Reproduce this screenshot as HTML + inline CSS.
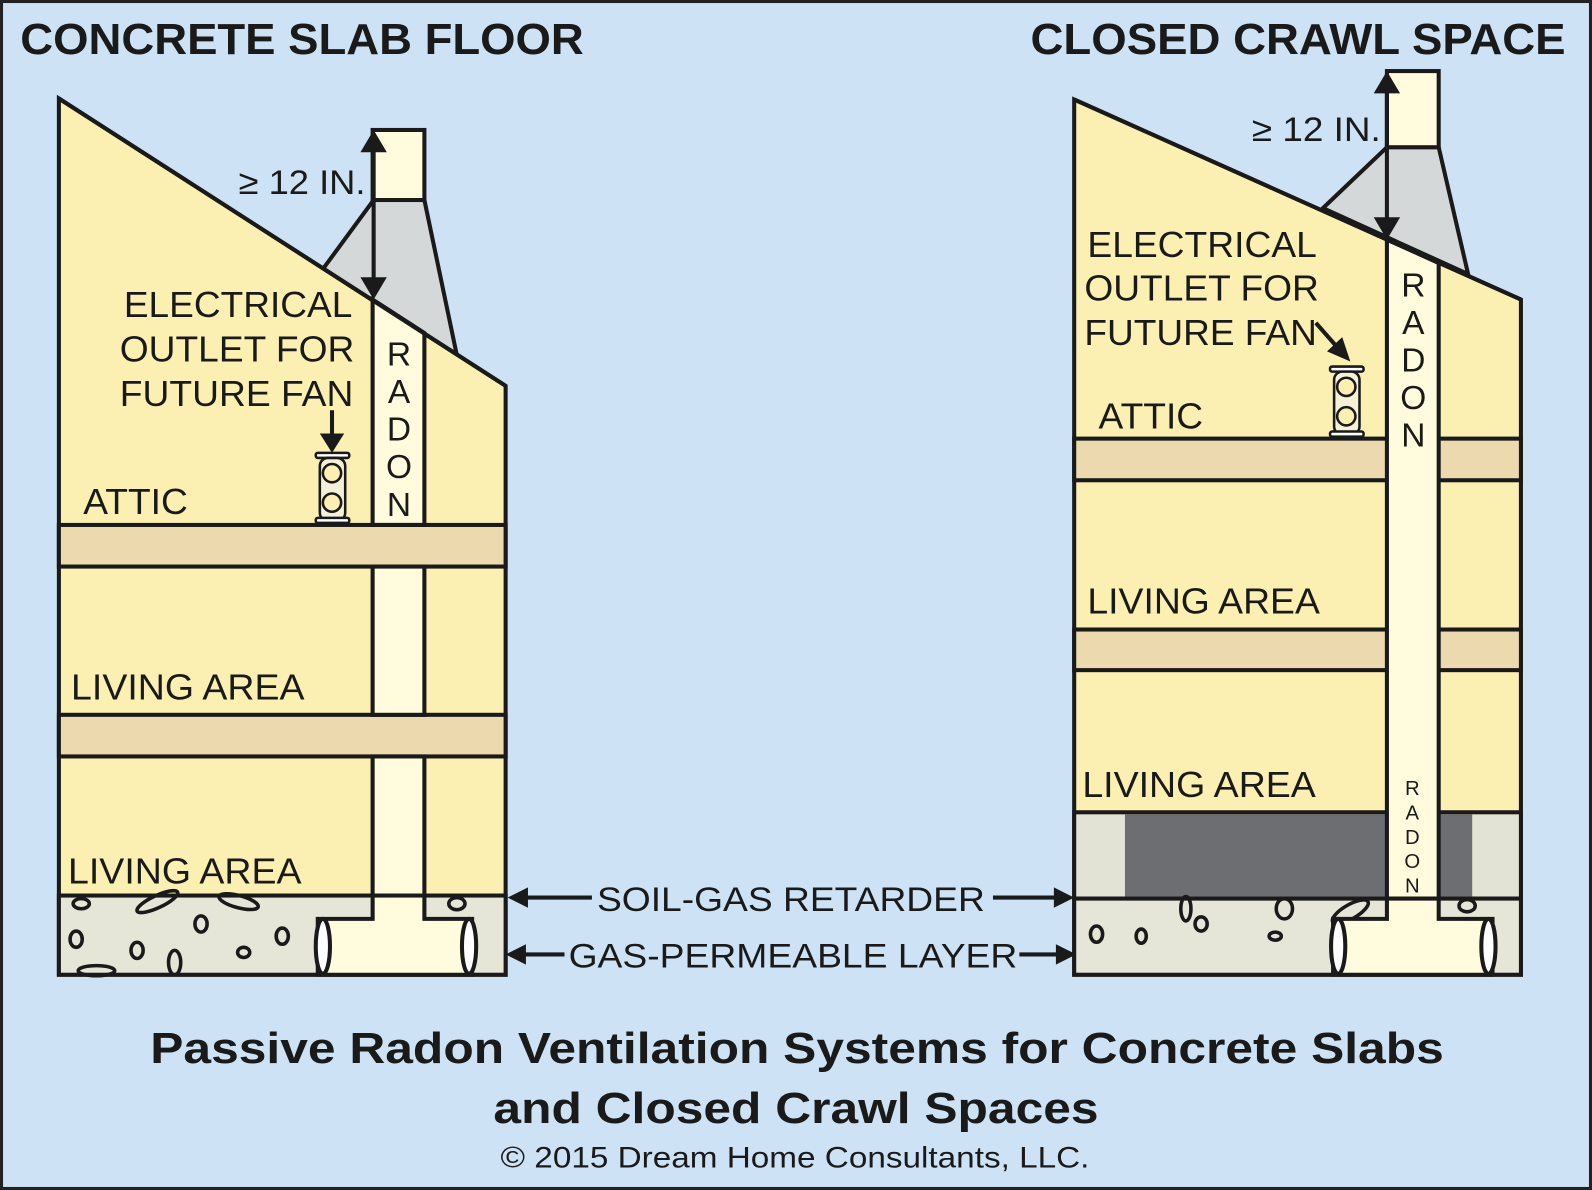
<!DOCTYPE html>
<html><head><meta charset="utf-8"><style>
html,body{margin:0;padding:0;background:#cde3f5;}
svg{display:block;}
text{font-family:"Liberation Sans",Arial,sans-serif;fill:#1a1a1a;}
</style></head><body>
<svg width="1592" height="1190" viewBox="0 0 1568 1172" preserveAspectRatio="none" xmlns="http://www.w3.org/2000/svg">
<rect x="1.5" y="1.5" width="1565" height="1169" fill="#cde3f5" stroke="#222" stroke-width="3"/>
<g stroke="#1a1a1a" stroke-width="4" stroke-linejoin="miter">
<!-- LEFT HOUSE -->
<polygon points="318,265 368,197 418,197 450,350" fill="#d4d8d8"/>
<polygon points="58,97 498,380 498,960 58,960" fill="#fcefb2"/>
<rect x="58" y="517" width="440" height="41" fill="#ecd9ae"/>
<rect x="58" y="704" width="440" height="41" fill="#ecd9ae"/>
<rect x="58" y="882" width="440" height="78" fill="#e6e6d8"/>
<g fill="none" stroke-width="3.5">
<ellipse cx="80" cy="890" rx="8" ry="5"/><ellipse cx="155" cy="888" rx="22" ry="6" transform="rotate(-25 155 888)"/>
<ellipse cx="235" cy="888" rx="20" ry="6" transform="rotate(15 235 888)"/>
<ellipse cx="75" cy="925" rx="6" ry="8"/><ellipse cx="135" cy="936" rx="6" ry="8"/><ellipse cx="198" cy="910" rx="6" ry="8"/>
<ellipse cx="240" cy="938" rx="6" ry="5"/><ellipse cx="278" cy="922" rx="6" ry="8"/><ellipse cx="172" cy="948" rx="6" ry="12"/>
<ellipse cx="450" cy="890" rx="8" ry="6"/><ellipse cx="95" cy="956" rx="18" ry="5"/>
</g>
<path d="M367,882 V905 H313 V960 H465 V905 H418 V882" fill="#fffbdc"/>
<ellipse cx="318" cy="932" rx="7" ry="27" fill="#fff"/>
<ellipse cx="462" cy="932" rx="7" ry="27" fill="#fff"/>
<rect x="367" y="558" width="51" height="146" fill="#fffbdc"/>
<rect x="367" y="745" width="51" height="137" fill="#fffbdc"/>
<polygon points="367,295 418,328 418,517 367,517" fill="#fffbdc"/>
<rect x="367" y="128" width="51" height="69" fill="#fffbdc"/>
<line x1="58" y1="97" x2="498" y2="380"/>
<!-- RIGHT HOUSE -->
<polygon points="1303,205 1366,145 1417,145 1446,270" fill="#d4d8d8"/>
<polygon points="1058,98 1498,295 1498,960 1058,960" fill="#fcefb2"/>
<rect x="1058" y="432" width="440" height="41" fill="#ecd9ae"/>
<rect x="1058" y="620" width="440" height="40" fill="#ecd9ae"/>
<rect x="1058" y="800" width="440" height="85" fill="#e3e3d5"/>
<rect x="1108" y="802" width="342" height="82" fill="#6d6e72" stroke="none"/>
<rect x="1058" y="885" width="440" height="75" fill="#e6e6d8"/>
<g fill="none" stroke-width="3.5">
<ellipse cx="1080" cy="920" rx="6" ry="8"/><ellipse cx="1124" cy="922" rx="5" ry="7"/><ellipse cx="1183" cy="910" rx="6" ry="7"/>
<ellipse cx="1256" cy="922" rx="6" ry="4"/><ellipse cx="1168" cy="895" rx="5" ry="12"/><ellipse cx="1265" cy="895" rx="8" ry="10"/>
<ellipse cx="1330" cy="898" rx="20" ry="7" transform="rotate(-30 1330 898)"/><ellipse cx="1445" cy="892" rx="8" ry="6"/>
</g>
<path d="M1366,885 V905 H1313 V960 H1470 V905 H1417 V885" fill="#fffbdc"/>
<ellipse cx="1318" cy="932" rx="7" ry="27" fill="#fff"/>
<ellipse cx="1466" cy="932" rx="7" ry="27" fill="#fff"/>
<polygon points="1366,236 1417,259 1417,885 1366,885" fill="#fffbdc"/>
<rect x="1366" y="70" width="51" height="75" fill="#fffbdc"/>
<line x1="1058" y1="98" x2="1498" y2="295"/>
</g>
<g stroke="#1a1a1a" stroke-width="4" fill="#1a1a1a">
<line x1="368" y1="140" x2="368" y2="282"/>
<path d="M368,128 L355,150 H381Z" stroke="none"/><path d="M368,295 L355,273 H381Z" stroke="none"/>
<line x1="1366" y1="82" x2="1366" y2="222"/>
<path d="M1366,70 L1353,92 H1379Z" stroke="none"/><path d="M1366,236 L1353,214 H1379Z" stroke="none"/>
<line x1="327" y1="404" x2="327" y2="432"/><path d="M327,446 L315,427 H339Z" stroke="none"/>
<line x1="1296" y1="318" x2="1318" y2="343"/><path d="M1330,356 L1307,346 L1322,332Z" stroke="none"/>
</g>
<g stroke="#1a1a1a" stroke-width="2.5" fill="#fff">
<rect x="311" y="446" width="33" height="5" rx="2"/><rect x="315" y="451" width="25" height="62" rx="8" fill="#f5f0d8"/>
<rect x="311" y="510" width="33" height="5" rx="2"/>
<circle cx="327" cy="466" r="9" fill="#fcefb2"/><circle cx="327" cy="495" r="9" fill="#fcefb2"/>
<rect x="1310" y="361" width="33" height="5" rx="2"/><rect x="1314" y="366" width="25" height="62" rx="8" fill="#f5f0d8"/>
<rect x="1310" y="425" width="33" height="5" rx="2"/>
<circle cx="1326" cy="381" r="9" fill="#fcefb2"/><circle cx="1326" cy="410" r="9" fill="#fcefb2"/>
</g>
<g stroke="#1a1a1a" stroke-width="4" fill="#1a1a1a">
<line x1="515" y1="884" x2="583" y2="884"/><path d="M500,884 L520,874 V894Z" stroke="none"/>
<line x1="978" y1="884" x2="1042" y2="884"/><path d="M1058,884 L1038,874 V894Z" stroke="none"/>
<line x1="515" y1="940" x2="556" y2="940"/><path d="M498,940 L518,930 V950Z" stroke="none"/>
<line x1="1004" y1="940" x2="1044" y2="940"/><path d="M1060,940 L1040,930 V950Z" stroke="none"/>
</g>
<g lengthAdjust="spacingAndGlyphs">
<text x="20" y="53" font-size="43" font-weight="bold" textLength="555" lengthAdjust="spacingAndGlyphs">CONCRETE SLAB FLOOR</text>
<text x="1015" y="53" font-size="43" font-weight="bold" textLength="527" lengthAdjust="spacingAndGlyphs">CLOSED CRAWL SPACE</text>
<text x="235" y="191" font-size="34" textLength="125" lengthAdjust="spacingAndGlyphs">≥ 12 IN.</text>
<text x="1233" y="139" font-size="34" textLength="127" lengthAdjust="spacingAndGlyphs">≥ 12 IN.</text>
<g font-size="36">
<text x="122" y="312" textLength="225" lengthAdjust="spacingAndGlyphs">ELECTRICAL</text>
<text x="118" y="356" textLength="231" lengthAdjust="spacingAndGlyphs">OUTLET FOR</text>
<text x="118" y="400" textLength="230" lengthAdjust="spacingAndGlyphs">FUTURE FAN</text>
<text x="1071" y="253" textLength="226" lengthAdjust="spacingAndGlyphs">ELECTRICAL</text>
<text x="1068" y="296" textLength="231" lengthAdjust="spacingAndGlyphs">OUTLET FOR</text>
<text x="1068" y="340" textLength="229" lengthAdjust="spacingAndGlyphs">FUTURE FAN</text>
<text x="82" y="506" textLength="103" lengthAdjust="spacingAndGlyphs">ATTIC</text>
<text x="1082" y="422" textLength="103" lengthAdjust="spacingAndGlyphs">ATTIC</text>
<text x="70" y="689" textLength="230" lengthAdjust="spacingAndGlyphs">LIVING AREA</text>
<text x="67" y="870" textLength="230" lengthAdjust="spacingAndGlyphs">LIVING AREA</text>
<text x="1071" y="604" textLength="229" lengthAdjust="spacingAndGlyphs">LIVING AREA</text>
<text x="1066" y="785" textLength="230" lengthAdjust="spacingAndGlyphs">LIVING AREA</text>
</g>
<g font-size="33" text-anchor="middle">
<text x="393" y="360">R</text><text x="393" y="397">A</text><text x="393" y="434">D</text><text x="393" y="471">O</text><text x="393" y="508">N</text>
<text x="1392" y="292">R</text><text x="1392" y="329">A</text><text x="1392" y="366">D</text><text x="1392" y="403">O</text><text x="1392" y="440">N</text>
</g>
<g font-size="20" text-anchor="middle">
<text x="1391" y="783">R</text><text x="1391" y="807">A</text><text x="1391" y="831">D</text><text x="1391" y="855">O</text><text x="1391" y="879">N</text>
</g>
<text x="588" y="897" font-size="34" textLength="382" lengthAdjust="spacingAndGlyphs">SOIL-GAS RETARDER</text>
<text x="560" y="953" font-size="34" textLength="442" lengthAdjust="spacingAndGlyphs">GAS-PERMEABLE LAYER</text>
<text x="148" y="1047" font-size="43" font-weight="bold" textLength="1274" lengthAdjust="spacingAndGlyphs">Passive Radon Ventilation Systems for Concrete Slabs</text>
<text x="486" y="1106" font-size="43" font-weight="bold" textLength="596" lengthAdjust="spacingAndGlyphs">and Closed Crawl Spaces</text>
<text x="493" y="1150" font-size="29" textLength="580" lengthAdjust="spacingAndGlyphs">© 2015 Dream Home Consultants, LLC.</text>
</g>
</svg>
</body></html>
